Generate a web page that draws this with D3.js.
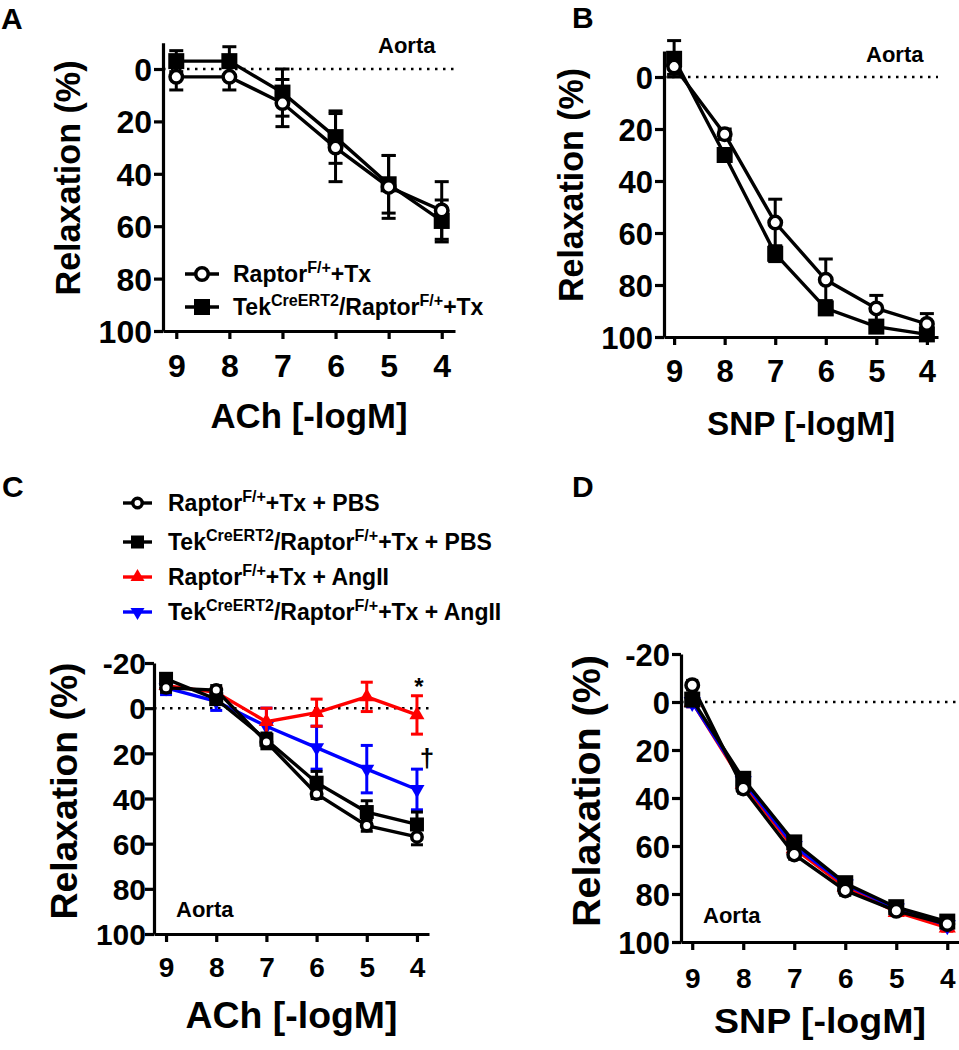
<!DOCTYPE html>
<html>
<head>
<meta charset="utf-8">
<script src="https://cdn.jsdelivr.net/npm/d3@7"></script>
<style>
  body { margin: 0; background: #fff; }
  text { font-family: "Liberation Sans", Arial, sans-serif; font-weight: bold; fill: #000; }
</style>
</head>
<body>
<svg id="fig" width="959" height="1050"></svg>
<script>
// ---- data ----
var conc = [9, 8, 7, 6, 5, 4];
var yTicksAB = [0, 20, 40, 60, 80, 100];
var yTicksCD = [-20, 0, 20, 40, 60, 80, 100];

// A: ACh, aorta
var aRapMean = [3, 3, 13, 30, 45, 54];
var aRapSem  = [5, 5, 9, 13, 12, 11];
var aTekMean = [-3, -3, 9, 26, 44, 58];
var aTekSem  = [4, 5.5, 9, 10, 11, 8];

// B: SNP, aorta
var bRapMean = [-4, 22, 56, 78, 89, 95];
var bRapSem  = [3, 2, 9, 8, 5, 4];
var bTekMean = [-7, 30, 68, 89, 96, 99];
var bTekSem  = [7, 2, 3, 2, 1, 1];

// C: ACh, aorta, PBS vs AngII
var cRapPbsMean = [-9, -8, 15, 38, 52, 57];
var cRapPbsSem  = [2, 2, 3, 2, 2.5, 3.5];
var cTekPbsMean = [-13, -4, 14, 33, 46, 51.5];
var cTekPbsSem  = [2, 2, 3, 5, 5, 5.5];
var cRapAngMean = [-10, -7, 6, 2, -5, 3];
var cRapAngSem  = [2, 2, 6, 6, 6.5, 8.5];
var cTekAngMean = [-9, -3, 8, 17.5, 27, 36];
var cTekAngSem  = [3, 4, 8, 9.5, 10.5, 9];

// D: SNP, aorta, PBS vs AngII
var dRapPbsMean = [-7, 36, 63.5, 78.5, 87, 92.5];
var dTekPbsMean = [-1, 32, 58.5, 75.5, 85.5, 91.5];
var dRapAngMean = [0, 34, 61, 77, 87.5, 94];
var dTekAngMean = [0, 33, 60, 76, 86, 93];
var dSem        = [2, 2, 2, 2, 1.5, 1.5];

var legendAB = ["Raptor^F/+^+Tx", "Tek^CreERT2^/Raptor^F/+^+Tx"];
var legendCD = ["Raptor^F/+^+Tx + PBS", "Tek^CreERT2^/Raptor^F/+^+Tx + PBS",
                "Raptor^F/+^+Tx + AngII", "Tek^CreERT2^/Raptor^F/+^+Tx + AngII"];

var svg = d3.select("#fig");
var RED = "#ff0000", BLUE = "#0000ff";

// text with ^superscript^ parts
function richText(t, str, size) {
  var parts = str.split("^");
  var raise = size * 0.42;
  parts.forEach(function (p, i) {
    var sup = i % 2 == 1;
    t.append("tspan")
      .attr("font-size", sup ? size * 0.7 : size)
      .attr("dy", i == 0 ? 0 : (sup ? -raise : raise))
      .text(p);
  });
}

function drawMarker(g, type, cx, cy, color, size) {
  if (type == "circle") {
    g.append("circle").attr("cx", cx).attr("cy", cy).attr("r", size / 2 - 1.75)
      .attr("fill", "#fff").attr("stroke", color).attr("stroke-width", 3.5);
  } else if (type == "square") {
    g.append("rect").attr("x", cx - size / 2).attr("y", cy - size / 2)
      .attr("width", size).attr("height", size).attr("fill", color);
  } else {
    var area = size * size * 0.5;
    g.append("path").attr("d", d3.symbol(d3.symbolTriangle, area)())
      .attr("transform", "translate(" + cx + "," + cy + ")" + (type == "triDown" ? " rotate(180)" : ""))
      .attr("fill", color);
  }
}

function panel(cfg) {
  var x = d3.scaleLinear().domain(cfg.xDom).range(cfg.xRange);
  var y = d3.scaleLinear().domain(cfg.yDom).range(cfg.yRange);
  var g = svg.append("g");

  // dotted zero line
  g.append("line")
    .attr("x1", cfg.xRange[0]).attr("x2", cfg.xRange[1])
    .attr("y1", y(0)).attr("y2", y(0))
    .attr("stroke", "#000").attr("stroke-width", 2.5)
    .attr("stroke-dasharray", "2.5,5.5");

  // series
  cfg.series.forEach(function (s) {
    var sg = g.append("g");
    s.mean.forEach(function (m, i) {
      var cx = x(conc[i]);
      sg.append("line").attr("x1", cx).attr("x2", cx)
        .attr("y1", y(m - s.sem[i])).attr("y2", y(m + s.sem[i]))
        .attr("stroke", s.color).attr("stroke-width", 3);
      [m - s.sem[i], m + s.sem[i]].forEach(function (v) {
        sg.append("line").attr("x1", cx - cfg.cap).attr("x2", cx + cfg.cap)
          .attr("y1", y(v)).attr("y2", y(v))
          .attr("stroke", s.color).attr("stroke-width", 3);
      });
    });
    sg.append("path")
      .datum(s.mean)
      .attr("d", d3.line().x(function (d, i) { return x(conc[i]); }).y(function (d) { return y(d); }))
      .attr("fill", "none").attr("stroke", s.color).attr("stroke-width", 3.4);
    s.mean.forEach(function (m, i) {
      drawMarker(sg, s.marker, x(conc[i]), y(m), s.color, cfg.msize);
    });
  });

  // axes (plain hyphen for negatives, as in the figure)
  var fmt = function (d) { return String(d); };
  var xa = g.append("g")
    .attr("transform", "translate(0," + cfg.yRange[1] + ")")
    .call(d3.axisBottom(x).tickValues(conc).tickFormat(fmt).tickSize(8).tickSizeOuter(0));
  xa.selectAll("text").attr("y", cfg.xTickY).attr("dy", null)
    .attr("font-size", cfg.xTickFont);
  var ya = g.append("g")
    .attr("transform", "translate(" + cfg.xRange[0] + ",0)")
    .call(d3.axisLeft(y).tickValues(cfg.yTicks).tickFormat(fmt).tickSize(9).tickSizeOuter(0));
  ya.selectAll("text").attr("x", -cfg.yTickGap).attr("dy", "0.36em")
    .attr("font-size", cfg.yTickFont);
  [xa, ya].forEach(function (a) {
    a.attr("font-family", null).attr("font-size", null);
    a.selectAll("path, line").attr("stroke", "#000").attr("stroke-width", 3.2);
  });

  // axis titles
  g.append("text")
    .attr("x", (cfg.xRange[0] + cfg.xRange[1]) / 2).attr("y", cfg.xLabelY)
    .attr("text-anchor", "middle").attr("font-size", cfg.xLabelFont)
    .attr("textLength", cfg.xLabelLen).attr("lengthAdjust", "spacingAndGlyphs")
    .text(cfg.xLabel);
  g.append("text")
    .attr("transform", "translate(" + cfg.yLabelX + "," + cfg.yLabelCY + ") rotate(-90)")
    .attr("text-anchor", "middle").attr("font-size", cfg.yLabelFont)
    .attr("textLength", cfg.yLabelLen).attr("lengthAdjust", "spacingAndGlyphs")
    .text("Relaxation (%)");

  // tissue tag
  g.append("text").attr("x", cfg.tag[0]).attr("y", cfg.tag[1])
    .attr("font-size", 22).text("Aorta");

  // panel letter
  svg.append("text").attr("x", cfg.letter[0]).attr("y", cfg.letter[1])
    .attr("font-size", 30)
    .text(cfg.name);
  return g;
}

function legend(items, o) {
  var lg = svg.append("g");
  items.forEach(function (it, i) {
    var cy = o.rows[i];
    lg.append("line").attr("x1", o.x0).attr("x2", o.x1).attr("y1", cy).attr("y2", cy)
      .attr("stroke", it.color).attr("stroke-width", 3.4);
    drawMarker(lg, it.marker, (o.x0 + o.x1) / 2, cy, it.color, o.msize);
    var t = lg.append("text").attr("x", o.tx).attr("y", cy + o.font * 0.36)
      .attr("font-size", o.font);
    richText(t, it.label, o.font);
  });
}

// ---- Panel A ----
panel({
  name: "A", letter: [1, 29],
  xDom: [9.25, 3.75], xRange: [163, 455],
  yDom: [-10, 100], yRange: [42.8, 331], yTicks: yTicksAB,
  cap: 7, msize: 16,
  xTickY: 46, xTickFont: 32, yTickGap: 11, yTickFont: 32,
  xLabel: "ACh [-logM]", xLabelY: 428, xLabelFont: 35, xLabelLen: 197,
  yLabelX: 80, yLabelCY: 178, yLabelFont: 35, yLabelLen: 235,
  tag: [378, 53],
  series: [
    { mean: aTekMean, sem: aTekSem, marker: "square", color: "#000" },
    { mean: aRapMean, sem: aRapSem, marker: "circle", color: "#000" }
  ]
});
legend([
  { label: legendAB[0], marker: "circle", color: "#000" },
  { label: legendAB[1], marker: "square", color: "#000" }
], { x0: 185, x1: 219, rows: [274, 307], tx: 233, font: 23, msize: 16 });

// ---- Panel B ----
panel({
  name: "B", letter: [572, 28],
  xDom: [9.2, 3.78], xRange: [664, 938],
  yDom: [-10, 100], yRange: [51, 337], yTicks: yTicksAB,
  cap: 7, msize: 16,
  xTickY: 45, xTickFont: 31, yTickGap: 11, yTickFont: 31,
  xLabel: "SNP [-logM]", xLabelY: 435, xLabelFont: 34, xLabelLen: 188,
  yLabelX: 583, yLabelCY: 185, yLabelFont: 35, yLabelLen: 234,
  tag: [866, 62],
  series: [
    { mean: bTekMean, sem: bTekSem, marker: "square", color: "#000" },
    { mean: bRapMean, sem: bRapSem, marker: "circle", color: "#000" }
  ]
});

// ---- Panel C ----
var gC = panel({
  name: "C", letter: [2, 497],
  xDom: [9.24, 3.76], xRange: [154, 429],
  yDom: [-20, 100], yRange: [663, 934], yTicks: yTicksCD,
  cap: 6, msize: 14,
  xTickY: 43, xTickFont: 28, yTickGap: 8, yTickFont: 30,
  xLabel: "ACh [-logM]", xLabelY: 1028, xLabelFont: 36, xLabelLen: 212,
  yLabelX: 77, yLabelCY: 791, yLabelFont: 37, yLabelLen: 257,
  tag: [176, 917],
  series: [
    { mean: cTekAngMean, sem: cTekAngSem, marker: "triDown", color: BLUE },
    { mean: cRapAngMean, sem: cRapAngSem, marker: "triUp", color: RED },
    { mean: cTekPbsMean, sem: cTekPbsSem, marker: "square", color: "#000" },
    { mean: cRapPbsMean, sem: cRapPbsSem, marker: "circle", color: "#000" }
  ]
});
gC.append("text").attr("x", 419).attr("y", 695).attr("text-anchor", "middle")
  .attr("font-size", 24).text("*");
gC.append("text").attr("x", 427).attr("y", 767).attr("text-anchor", "middle")
  .attr("font-size", 26).text("\u2020");
legend([
  { label: legendCD[0], marker: "circle", color: "#000" },
  { label: legendCD[1], marker: "square", color: "#000" },
  { label: legendCD[2], marker: "triUp", color: RED },
  { label: legendCD[3], marker: "triDown", color: BLUE }
], { x0: 123, x1: 152, rows: [503, 542, 577, 612], tx: 168, font: 23, msize: 13 });

// ---- Panel D ----
panel({
  name: "D", letter: [572, 497],
  xDom: [9.22, 3.77], xRange: [681, 959],
  yDom: [-20, 100], yRange: [654, 942], yTicks: yTicksCD,
  cap: 6, msize: 16,
  xTickY: 46, xTickFont: 28, yTickGap: 11, yTickFont: 31,
  xLabel: "SNP [-logM]", xLabelY: 1033, xLabelFont: 35, xLabelLen: 212,
  yLabelX: 600, yLabelCY: 791, yLabelFont: 38, yLabelLen: 272,
  tag: [703, 923],
  series: [
    { mean: dRapAngMean, sem: dSem, marker: "triUp", color: RED },
    { mean: dTekAngMean, sem: dSem, marker: "triDown", color: BLUE },
    { mean: dTekPbsMean, sem: dSem, marker: "square", color: "#000" },
    { mean: dRapPbsMean, sem: dSem, marker: "circle", color: "#000" }
  ]
});
</script>
</body>
</html>
